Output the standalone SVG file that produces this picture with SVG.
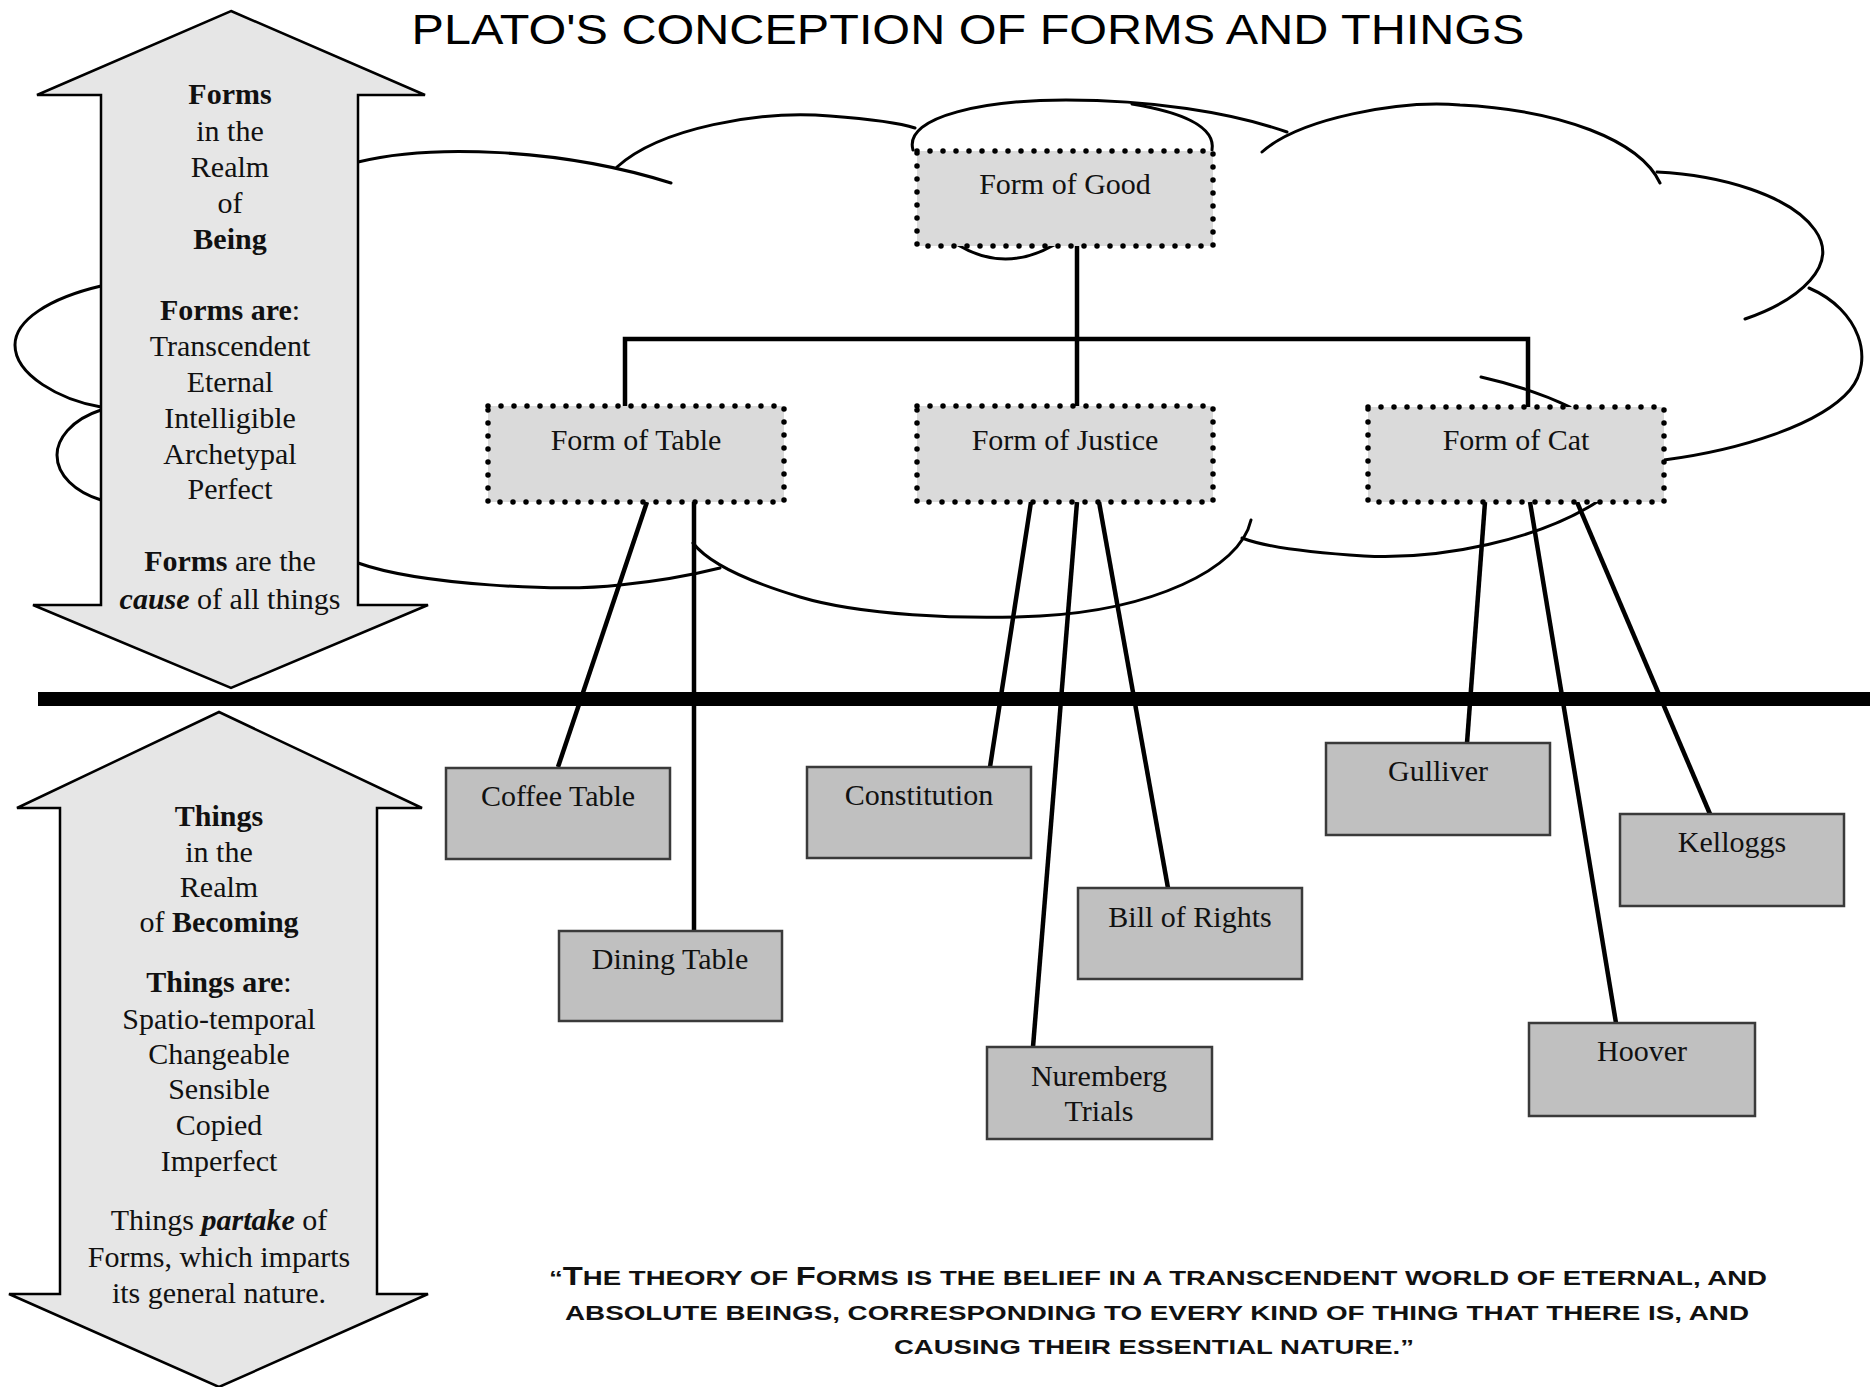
<svg xmlns="http://www.w3.org/2000/svg" width="1870" height="1387" viewBox="0 0 1870 1387">
<defs>
<style>
.cloud{fill:none;stroke:#000;stroke-width:3;stroke-linecap:round}
.conn{fill:none;stroke:#000;stroke-width:4.5}
.form rect{fill:#dadada;stroke:#000;stroke-width:5.5;stroke-dasharray:0 13;stroke-linecap:round}
.thing rect{fill:#c0c0c0;stroke:#3a3a3a;stroke-width:2.5}
.lbl{font-family:"Liberation Serif","Times New Roman",serif;font-size:30px;fill:#111;text-anchor:middle}
.arrow polygon{fill:#e6e6e6;stroke:#000;stroke-width:2.5;stroke-linejoin:miter}
.b{font-weight:bold}
.bi{font-weight:bold;font-style:italic}
.quote{font-family:"Liberation Sans",Arial,sans-serif;font-weight:bold;font-size:21px;fill:#111;text-anchor:middle}
.big{font-size:25px}
</style>
</defs>
<rect width="1870" height="1387" fill="#fff"/>

<g id="cloud">
<path class="cloud" d="M358,162 C430,144 560,148 671,183"/>
<path class="cloud" d="M617,167 C660,128 760,110 830,116 C870,119 900,123 915,128"/>
<path class="cloud" d="M913,150 C903,115 990,100 1066,100 C1150,100 1230,112 1287,132"/>
<path class="cloud" d="M1132,104 C1180,112 1216,126 1212,150"/>
<path class="cloud" d="M1262,152 C1300,118 1400,100 1460,105 C1560,110 1640,140 1660,183"/>
<path class="cloud" d="M1657,172 C1720,175 1790,195 1815,230 C1840,265 1800,300 1745,319"/>
<path class="cloud" d="M1809,288 C1860,310 1875,360 1850,390 C1820,425 1740,450 1664,460"/>
<path class="cloud" d="M1600,500 C1540,540 1440,560 1364,556 C1300,552 1260,545 1242,538"/>
<path class="cloud" d="M1251,520 C1240,570 1150,610 1040,616 C960,620 860,615 800,597 C750,582 710,565 693,543"/>
<path class="cloud" d="M358,563 C420,585 560,592 620,585 C670,580 700,573 720,568"/>
<path class="cloud" d="M101,286 C50,298 15,320 15,345 C15,375 60,400 101,407"/>
<path class="cloud" d="M101,410 C70,420 57,440 57,455 C57,475 75,492 101,500"/>
<path class="cloud" d="M1481,377 Q1530,388 1570,407"/>
<path class="cloud" d="M958,245 Q1005,273 1054,245"/>
</g>

<rect id="divider" x="38" y="692" width="1832" height="14" fill="#000"/>

<g id="connectors">
<path class="conn" d="M1077,246 V406"/>
<path class="conn" d="M625,408 V339 H1528 V408"/>
<path class="conn" d="M647,502 L558,767"/>
<path class="conn" d="M694,502 V931"/>
<path class="conn" d="M1031,502 L990,767"/>
<path class="conn" d="M1077,502 L1033,1047"/>
<path class="conn" d="M1099,502 L1168,888"/>
<path class="conn" d="M1485,502 L1467,743"/>
<path class="conn" d="M1530,502 L1616,1023"/>
<path class="conn" d="M1577,502 L1710,814"/>
</g>

<g id="node-form-good" class="form"><rect x="917" y="151" width="296" height="95"/><text class="lbl" x="1065" y="194">Form of Good</text></g>
<g id="node-form-table" class="form"><rect x="488" y="406" width="296" height="96"/><text class="lbl" x="636" y="450">Form of Table</text></g>
<g id="node-form-justice" class="form"><rect x="917" y="406" width="296" height="96"/><text class="lbl" x="1065" y="450">Form of Justice</text></g>
<g id="node-form-cat" class="form"><rect x="1368" y="407" width="296" height="95"/><text class="lbl" x="1516" y="450">Form of Cat</text></g>

<g id="node-coffee-table" class="thing"><rect x="446" y="768" width="224" height="91"/><text class="lbl" x="558" y="806">Coffee Table</text></g>
<g id="node-dining-table" class="thing"><rect x="559" y="931" width="223" height="90"/><text class="lbl" x="670" y="969">Dining Table</text></g>
<g id="node-constitution" class="thing"><rect x="807" y="767" width="224" height="91"/><text class="lbl" x="919" y="805">Constitution</text></g>
<g id="node-bill-of-rights" class="thing"><rect x="1078" y="888" width="224" height="91"/><text class="lbl" x="1190" y="927">Bill of Rights</text></g>
<g id="node-nuremberg" class="thing"><rect x="987" y="1047" width="225" height="92"/><text class="lbl" x="1099" y="1086">Nuremberg</text><text class="lbl" x="1099" y="1121">Trials</text></g>
<g id="node-gulliver" class="thing"><rect x="1326" y="743" width="224" height="92"/><text class="lbl" x="1438" y="781">Gulliver</text></g>
<g id="node-kelloggs" class="thing"><rect x="1620" y="814" width="224" height="92"/><text class="lbl" x="1732" y="852">Kelloggs</text></g>
<g id="node-hoover" class="thing"><rect x="1529" y="1023" width="226" height="93"/><text class="lbl" x="1642" y="1061">Hoover</text></g>

<g id="arrow-forms" class="arrow">
<polygon points="231,11 425,95 358,95 358,605 428,605 231,688 33,605 101,605 101,95 37,95"/>
<text class="lbl b" x="230" y="104">Forms</text>
<text class="lbl" x="230" y="141">in the</text>
<text class="lbl" x="230" y="177">Realm</text>
<text class="lbl" x="230" y="213">of</text>
<text class="lbl b" x="230" y="249">Being</text>
<text class="lbl" x="230" y="320"><tspan class="b">Forms are</tspan>:</text>
<text class="lbl" x="230" y="356">Transcendent</text>
<text class="lbl" x="230" y="392">Eternal</text>
<text class="lbl" x="230" y="428">Intelligible</text>
<text class="lbl" x="230" y="464">Archetypal</text>
<text class="lbl" x="230" y="499">Perfect</text>
<text class="lbl" x="230" y="571"><tspan class="b">Forms</tspan> are the</text>
<text class="lbl" x="230" y="609"><tspan class="bi">cause</tspan> of all things</text>
</g>

<g id="arrow-things" class="arrow">
<polygon points="219,712 422,808 377,808 377,1294 428,1294 219,1387 9,1294 60,1294 60,808 17,808"/>
<text class="lbl b" x="219" y="826">Things</text>
<text class="lbl" x="219" y="862">in the</text>
<text class="lbl" x="219" y="897">Realm</text>
<text class="lbl" x="219" y="932">of <tspan class="b">Becoming</tspan></text>
<text class="lbl" x="219" y="992"><tspan class="b">Things are</tspan>:</text>
<text class="lbl" x="219" y="1029">Spatio-temporal</text>
<text class="lbl" x="219" y="1064">Changeable</text>
<text class="lbl" x="219" y="1099">Sensible</text>
<text class="lbl" x="219" y="1135">Copied</text>
<text class="lbl" x="219" y="1171">Imperfect</text>
<text class="lbl" x="219" y="1230">Things <tspan class="bi">partake</tspan> of</text>
<text class="lbl" x="219" y="1267">Forms, which imparts</text>
<text class="lbl" x="219" y="1303">its general nature.</text>
</g>

<g id="quote">
<text class="quote" x="1158" y="1285" textLength="1218" lengthAdjust="spacingAndGlyphs">“<tspan class="big">T</tspan>HE THEORY OF <tspan class="big">F</tspan>ORMS IS THE BELIEF IN A TRANSCENDENT WORLD OF ETERNAL, AND</text>
<text class="quote" x="1157" y="1320" textLength="1184" lengthAdjust="spacingAndGlyphs">ABSOLUTE BEINGS, CORRESPONDING TO EVERY KIND OF THING THAT THERE IS, AND</text>
<text class="quote" x="1154" y="1354" textLength="520" lengthAdjust="spacingAndGlyphs">CAUSING THEIR ESSENTIAL NATURE.”</text>
</g>

<text id="title" x="968" y="44" text-anchor="middle" font-family="'Liberation Sans',Arial,sans-serif" font-size="42" fill="#000" textLength="1113" lengthAdjust="spacingAndGlyphs">PLATO'S CONCEPTION OF FORMS AND THINGS</text>
</svg>
